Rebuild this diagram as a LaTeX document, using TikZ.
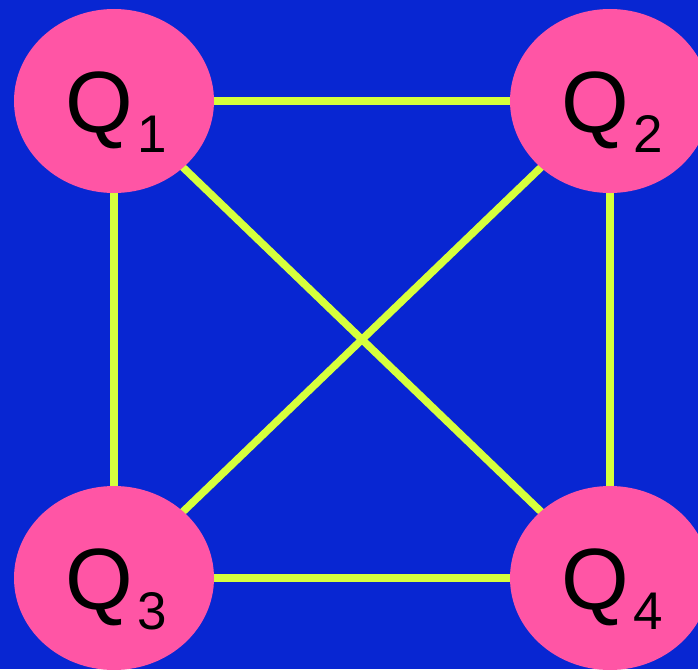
\documentclass[tikz,border=0pt]{standalone}
\usepackage{fontspec}
\setmainfont{Liberation Sans}
\usetikzlibrary{shapes.geometric}
\definecolor{bgblue}{RGB}{8,38,210}
\definecolor{qpink}{RGB}{255,85,165}
\definecolor{linkyellow}{RGB}{214,255,60}
\pgfdeclarelayer{back}
\pgfdeclarelayer{mid}
\pgfsetlayers{back,mid,main}
\tikzset{
  qnode/.style={ellipse, fill=qpink, draw=none, minimum width=200pt, minimum height=184pt,
    inner sep=0pt, text height=62pt, text depth=0pt,
    font=\fontsize{87}{100}\selectfont},
  link/.style={draw=linkyellow, line width=7.5pt}
}
\newcommand{\qsub}[1]{\kern4pt\raisebox{-20pt}{\fontsize{53}{60}\selectfont #1}}
\begin{document}
\begin{tikzpicture}[x=1pt,y=-1pt]
\begin{pgfonlayer}{back}
\fill[bgblue] (0,0) rectangle (698,669);
\end{pgfonlayer}
\useasboundingbox (0,0) rectangle (698,669);
\node[qnode] (q1) at (114,101) {\hspace{4pt}Q\qsub{1}};
\node[qnode] (q2) at (610,101) {\hspace{4pt}Q\qsub{2}};
\node[qnode] (q3) at (114,578) {\hspace{4pt}Q\qsub{3}};
\node[qnode] (q4) at (610,578) {\hspace{4pt}Q\qsub{4}};
\begin{pgfonlayer}{mid}
\draw[link] (q1.center) -- (q2.center);
\draw[link] (q3.center) -- (q4.center);
\draw[link] (q1.center) -- (q3.center);
\draw[link] (q2.center) -- (q4.center);
\draw[link] (q1.center) -- (q4.center);
\draw[link] (q2.center) -- (q3.center);
\end{pgfonlayer}
\end{tikzpicture}
\end{document}
